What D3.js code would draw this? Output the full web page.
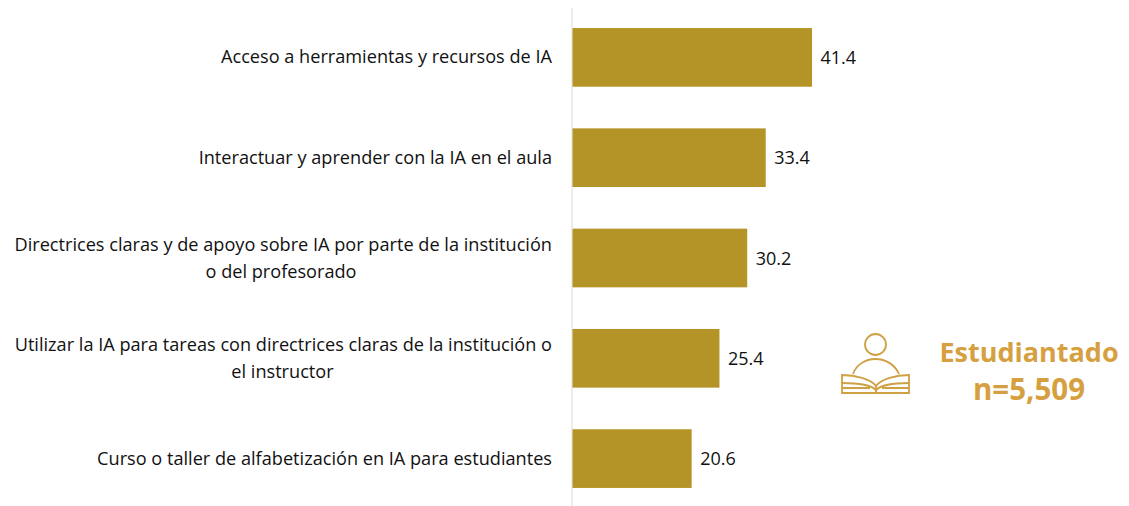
<!DOCTYPE html>
<html><head><meta charset="utf-8">
<script src="https://cdn.jsdelivr.net/npm/d3@7"></script>
<style>html,body{margin:0;background:#fff}svg{display:block}text{font-family:"Open Sans",sans-serif}</style>
</head><body><svg id="c" width="1129" height="506"></svg>
<script>
const categories=[
 ["Acceso a herramientas y recursos de IA"],
 ["Interactuar y aprender con la IA en el aula"],
 ["Directrices claras y de apoyo sobre IA por parte de la institución","o del profesorado"],
 ["Utilizar la IA para tareas con directrices claras de la institución o","el instructor"],
 ["Curso o taller de alfabetización en IA para estudiantes"]];
const values=[41.4,33.4,30.2,25.4,20.6];
const secondLineCentre=[null,null,281,282.5,null];
const svg=d3.select("#c");
const x=d3.scaleLinear().domain([0,41.4]).range([572.5,812]);
const y=d3.scaleBand().domain(d3.range(values.length)).range([8,508]).paddingInner(0.415).paddingOuter(0.2);
svg.append("line").attr("x1",572).attr("x2",572).attr("y1",8).attr("y2",506).attr("stroke","#d9d9d9").attr("stroke-width",1);
svg.selectAll("rect.b").data(values).join("rect").attr("class","b")
 .attr("x",x(0)).attr("y",(d,i)=>y(i)).attr("width",d=>x(d)-x(0)).attr("height",y.bandwidth()).attr("fill","#b59427");
svg.selectAll("text.v").data(values).join("text").attr("class","v")
 .attr("x",d=>x(d)+8.5).attr("y",(d,i)=>y(i)+y.bandwidth()/2+6.8)
 .attr("font-size",18).attr("fill","#111").text(d=>d.toFixed(1));
categories.forEach((lines,i)=>{
 const cy=y(i)+y.bandwidth()/2;
 lines.forEach((l,j)=>{
  const yy=cy+(j-(lines.length-1)/2)*27+6;
  svg.append("text").attr("y",yy)
   .attr("text-anchor",j==0?"end":"middle").attr("font-size",18.15).attr("fill","#111").text(l)
   .attr("x",j==0?552:secondLineCentre[i]);
 });
});
const g=svg.append("g").attr("fill","none").attr("stroke","#cfa044").attr("stroke-width",1.8);
g.append("circle").attr("cx",875.5).attr("cy",344.5).attr("r",10.5);
g.append("path").attr("d","M853 374 C856 365 865 359 875.5 359 C886 359 895 365 899 374");
g.append("path").attr("d","M876 386 C871 379 855 375 842 375 V393 H909 V375 C896 375 881 379 876 386 V393");
g.append("path").attr("d","M842 383 C855 383 870 384 876 390 C882 384 896 383 909 383");
g.append("path").attr("d","M842 388 H870 M882 388 H909");
svg.append("text").attr("x",1029).attr("y",362).attr("text-anchor","middle").attr("font-size",27).attr("font-weight",700).attr("fill","#d6a040").text("Estudiantado");
svg.append("text").attr("x",1029).attr("y",400).attr("text-anchor","middle").attr("font-size",29.5).attr("font-weight",700).attr("fill","#d6a040").text("n=5,509");
</script></body></html>
